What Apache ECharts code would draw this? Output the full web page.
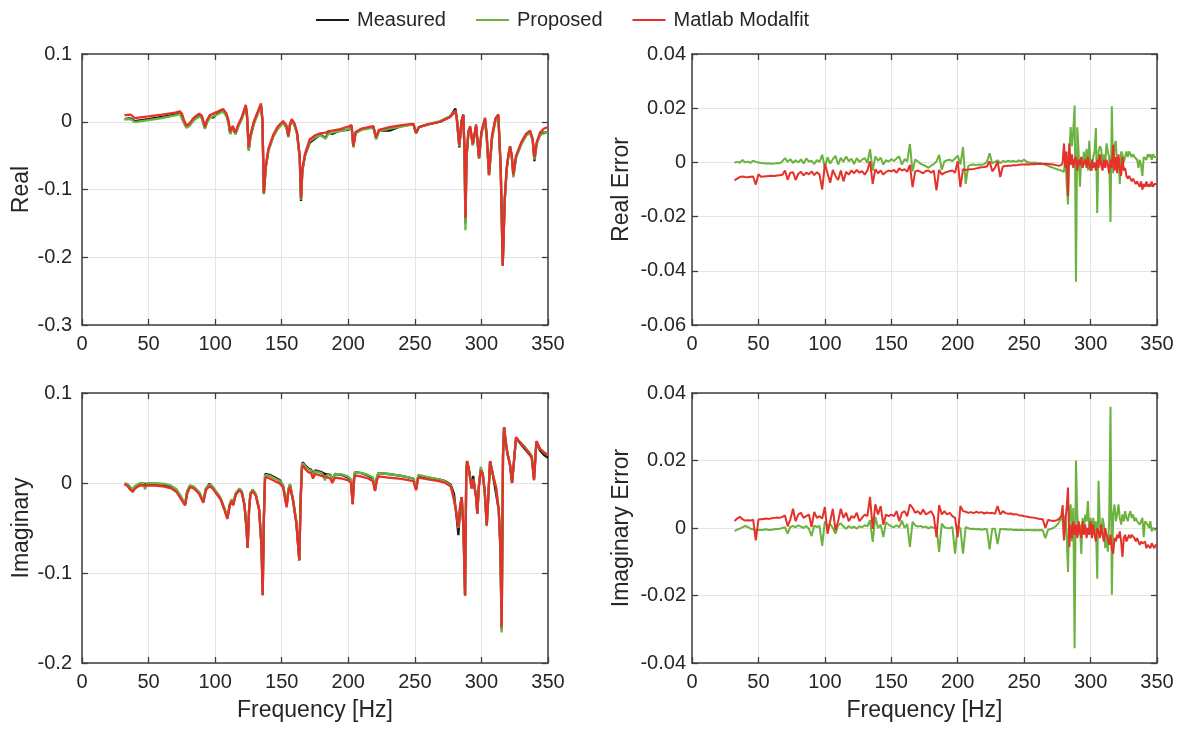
<!DOCTYPE html>
<html>
<head>
<meta charset="utf-8">
<title>Frequency response fit</title>
<script src="https://cdn.jsdelivr.net/npm/echarts@6/dist/echarts.min.js"></script>
<style>
  html, body { margin: 0; padding: 0; background: #ffffff; }
  #chart { width: 1186px; height: 730px; }
</style>
</head>
<body>
<div id="chart"></div>
<script>
// ---------------- Tick values and labels ----------------
const freqTicks = [0, 50, 100, 150, 200, 250, 300, 350];
const freqTickLabels = ['0', '50', '100', '150', '200', '250', '300', '350'];
const realTicks = [-0.3, -0.2, -0.1, 0, 0.1];
const realTickLabels = ['-0.3', '-0.2', '-0.1', '0', '0.1'];
const imagTicks = [-0.2, -0.1, 0, 0.1];
const imagTickLabels = ['-0.2', '-0.1', '0', '0.1'];
const realErrTicks = [-0.06, -0.04, -0.02, 0, 0.02, 0.04];
const realErrTickLabels = ['-0.06', '-0.04', '-0.02', '0', '0.02', '0.04'];
const imagErrTicks = [-0.04, -0.02, 0, 0.02, 0.04];
const imagErrTickLabels = ['-0.04', '-0.02', '0', '0.02', '0.04'];

// ---------------- Real part of the FRF [Hz] ----------------
const freqReal = [
  32, 35, 37, 39.5, 41, 50, 60, 70, 73.5, 75,
  76.5, 78.5, 80.5, 84, 88, 90, 92.3, 94, 96, 98.5,
  102, 106, 108.5, 110, 111.3, 113.3, 115.2, 117, 120, 123,
  124, 125.2, 126.5, 129, 132, 134.4, 135.5, 136.6, 138, 140,
  143.7, 147, 151, 153.5, 155, 156.2, 157.5, 159.5, 161.5, 163.5,
  164.5, 165.5, 167.5, 171, 175, 179, 183, 185, 188, 194,
  200, 202.5, 203.8, 205.5, 210, 215, 218.8, 220.9, 223, 231,
  240, 248.9, 250.9, 253, 260, 269, 276.4, 279, 280.4, 281.5,
  283.4, 285, 286.4, 287.3, 288, 288.8, 290.2, 291.5, 293.5, 296,
  298.2, 300, 302.7, 304, 305.7, 308, 310.5, 312.7, 314.5, 316,
  317.5, 319, 320.3, 321.5, 322.8, 324, 326, 330, 333.5, 336.5,
  338.5, 339.8, 341.5, 344, 347, 350
];
const realMeasured = [
  0.0040, 0.0050, 0.0045, 0.0010, 0.0020, 0.0040, 0.0070, 0.0110, 0.0130, 0.0100,
  0.0000, -0.0080, -0.0050, 0.0040, 0.0100, 0.0070, -0.0090, 0.0010, 0.0080, 0.0060,
  0.0130, 0.0160, 0.0100, 0.0000, -0.0180, -0.0080, -0.0180, -0.0080, 0.0050, 0.0230,
  0.0070, -0.0410, -0.0220, -0.0020, 0.0130, 0.0250, 0.0020, -0.1060, -0.0670, -0.0420,
  -0.0210, -0.0090, -0.0010, -0.0070, -0.0220, -0.0050, 0.0020, -0.0040, -0.0170, -0.0520,
  -0.1170, -0.0720, -0.0500, -0.0310, -0.0250, -0.0190, -0.0240, -0.0160, -0.0180, -0.0130,
  -0.0120, -0.0070, -0.0370, -0.0160, -0.0110, -0.0090, -0.0075, -0.0250, -0.0130, -0.0130,
  -0.0060, -0.0035, -0.0170, -0.0080, -0.0040, 0.0000, 0.0075, 0.0150, 0.0196, 0.0060,
  -0.0380, 0.0010, 0.0105, -0.0450, -0.1500, -0.0520, -0.0160, -0.0080, -0.0340, -0.0060,
  -0.0540, -0.0160, 0.0040, -0.0220, -0.0790, -0.0220, 0.0030, 0.0090, -0.0700, -0.2120,
  -0.1150, -0.0690, -0.0500, -0.0370, -0.0510, -0.0800, -0.0520, -0.0320, -0.0200, -0.0150,
  -0.0270, -0.0580, -0.0320, -0.0190, -0.0160, -0.0160
];
const realProposed = [
  0.0035, 0.0040, 0.0035, -0.0005, 0.0000, 0.0025, 0.0055, 0.0095, 0.0114, 0.0085,
  -0.0020, -0.0090, -0.0065, 0.0020, 0.0080, 0.0050, -0.0105, -0.0010, 0.0060, 0.0080,
  0.0110, 0.0150, 0.0080, -0.0020, -0.0180, -0.0090, -0.0185, -0.0090, 0.0040, 0.0220,
  0.0050, -0.0430, -0.0240, -0.0040, 0.0110, 0.0240, 0.0000, -0.1070, -0.0680, -0.0430,
  -0.0220, -0.0110, -0.0020, -0.0090, -0.0230, -0.0060, 0.0000, -0.0050, -0.0180, -0.0530,
  -0.1150, -0.0720, -0.0500, -0.0290, -0.0230, -0.0200, -0.0250, -0.0180, -0.0160, -0.0140,
  -0.0110, -0.0090, -0.0380, -0.0170, -0.0120, -0.0100, -0.0085, -0.0260, -0.0140, -0.0100,
  -0.0070, -0.0040, -0.0170, -0.0080, -0.0035, 0.0010, 0.0080, 0.0130, 0.0160, 0.0030,
  -0.0360, -0.0020, 0.0080, -0.0450, -0.1600, -0.0550, -0.0170, -0.0100, -0.0350, -0.0070,
  -0.0550, -0.0180, 0.0030, -0.0250, -0.0790, -0.0250, 0.0010, 0.0080, -0.0700, -0.2100,
  -0.1150, -0.0700, -0.0500, -0.0380, -0.0520, -0.0820, -0.0530, -0.0330, -0.0210, -0.0160,
  -0.0280, -0.0560, -0.0330, -0.0200, -0.0170, -0.0160
];
const realModalfit = [
  0.0095, 0.0105, 0.0100, 0.0055, 0.0060, 0.0080, 0.0105, 0.0135, 0.0153, 0.0120,
  0.0030, -0.0060, -0.0030, 0.0060, 0.0120, 0.0090, -0.0075, 0.0030, 0.0100, 0.0120,
  0.0150, 0.0188, 0.0120, 0.0020, -0.0145, -0.0060, -0.0160, -0.0060, 0.0070, 0.0250,
  0.0100, -0.0380, -0.0200, 0.0000, 0.0150, 0.0270, 0.0050, -0.1050, -0.0650, -0.0400,
  -0.0190, -0.0070, 0.0010, -0.0050, -0.0210, -0.0030, 0.0040, -0.0020, -0.0150, -0.0500,
  -0.1130, -0.0700, -0.0470, -0.0260, -0.0200, -0.0170, -0.0160, -0.0140, -0.0130, -0.0110,
  -0.0070, -0.0050, -0.0360, -0.0150, -0.0100, -0.0080, -0.0064, -0.0230, -0.0120, -0.0080,
  -0.0050, -0.0030, -0.0160, -0.0080, -0.0040, 0.0000, 0.0068, 0.0120, 0.0170, 0.0050,
  -0.0340, 0.0000, 0.0098, -0.0400, -0.1420, -0.0500, -0.0140, -0.0065, -0.0330, -0.0040,
  -0.0530, -0.0150, 0.0060, -0.0200, -0.0780, -0.0200, 0.0050, 0.0110, -0.0700, -0.2130,
  -0.1150, -0.0680, -0.0480, -0.0360, -0.0500, -0.0780, -0.0500, -0.0300, -0.0180, -0.0130,
  -0.0250, -0.0530, -0.0300, -0.0160, -0.0100, -0.0080
];

// ---------------- Imaginary part of the FRF ----------------
const freqImag = [
  32, 34, 36, 38, 40, 43, 46, 47.3, 49, 55,
  62, 67, 71, 74, 77.4, 79, 81.1, 84, 88, 91.1,
  93, 95.6, 98, 101, 104, 107, 109.2, 111, 112.4, 113.5,
  115.5, 118.2, 120, 122, 123.5, 124.4, 125.5, 126.5, 128.2, 130.5,
  133, 134.8, 135.7, 136.6, 137.5, 138.2, 141, 145, 148.7, 151,
  153.7, 155, 156.2, 158.5, 161, 163.2, 164.2, 165.2, 165.8, 168,
  170, 172, 173.5, 175, 180, 182.5, 184, 186.5, 188, 190,
  195, 200, 202, 203.3, 204.2, 205, 210, 215, 218.5, 220.1,
  221.5, 222.6, 230, 240, 248.9, 250.9, 252.6, 260, 268, 273,
  277, 279.4, 281.5, 282.7, 284, 285.2, 286.5, 287.7, 288.6, 289.2,
  290.5, 291.5, 292.7, 293.8, 296, 296.9, 298, 299.5, 301, 302.5,
  304, 305, 306.5, 308.5, 311, 313, 314.2, 315.2, 316.2, 317,
  318.3, 319.5, 320.2, 321.5, 323, 324.8, 326, 328, 332, 336,
  337.8, 339.5, 341.3, 344, 347, 350
];
const imagMeasured = [
  -0.0010, -0.0020, -0.0050, -0.0080, -0.0040, -0.0010, -0.0010, -0.0020, -0.0010, -0.0010,
  -0.0020, -0.0040, -0.0080, -0.0150, -0.0240, -0.0100, -0.0030, -0.0050, -0.0110, -0.0210,
  -0.0070, -0.0010, -0.0040, -0.0110, -0.0170, -0.0290, -0.0390, -0.0240, -0.0190, -0.0240,
  -0.0120, -0.0070, -0.0100, -0.0240, -0.0490, -0.0720, -0.0290, -0.0120, -0.0080, -0.0130,
  -0.0290, -0.0690, -0.1240, -0.0390, 0.0100, 0.0120, 0.0090, 0.0060, 0.0030, -0.0030,
  -0.0250, -0.0080, -0.0020, -0.0190, -0.0440, -0.0860, -0.0190, 0.0200, 0.0230, 0.0190,
  0.0160, 0.0150, 0.0090, 0.0140, 0.0120, 0.0100, 0.0100, 0.0090, 0.0040, 0.0100,
  0.0090, 0.0060, 0.0030, -0.0230, 0.0040, 0.0120, 0.0110, 0.0080, 0.0050, -0.0080,
  0.0060, 0.0110, 0.0100, 0.0080, 0.0050, -0.0070, 0.0080, 0.0060, 0.0040, 0.0020,
  -0.0020, -0.0120, -0.0400, -0.0580, -0.0280, -0.0160, -0.0500, -0.1250, 0.0100, 0.0240,
  0.0160, 0.0140, -0.0060, 0.0080, -0.0160, -0.0340, -0.0050, 0.0150, 0.0100, -0.0100,
  -0.0470, -0.0200, 0.0240, 0.0100, -0.0120, -0.0300, -0.0700, -0.1630, 0.0300, 0.0620,
  0.0450, 0.0330, 0.0350, 0.0200, 0.0000, 0.0300, 0.0500, 0.0460, 0.0390, 0.0320,
  0.0280, 0.0040, 0.0460, 0.0360, 0.0310, 0.0280
];
const imagProposed = [
  -0.0005, -0.0010, -0.0040, -0.0070, -0.0030, -0.0005, 0.0000, -0.0070, -0.0002, -0.0003,
  -0.0010, -0.0030, -0.0070, -0.0140, -0.0230, -0.0090, -0.0025, -0.0040, -0.0100, -0.0200,
  -0.0060, -0.0020, -0.0040, -0.0100, -0.0160, -0.0280, -0.0380, -0.0230, -0.0180, -0.0230,
  -0.0110, -0.0060, -0.0090, -0.0230, -0.0480, -0.0710, -0.0280, -0.0110, -0.0070, -0.0120,
  -0.0280, -0.0680, -0.1230, -0.0380, 0.0090, 0.0100, 0.0080, 0.0050, 0.0020, -0.0020,
  -0.0240, -0.0070, -0.0010, -0.0180, -0.0430, -0.0850, -0.0180, 0.0190, 0.0220, 0.0180,
  0.0150, 0.0140, 0.0080, 0.0130, 0.0110, 0.0030, 0.0090, 0.0085, 0.0040, 0.0100,
  0.0095, 0.0070, 0.0040, -0.0220, 0.0050, 0.0120, 0.0110, 0.0090, 0.0060, -0.0060,
  0.0070, 0.0110, 0.0100, 0.0080, 0.0050, -0.0060, 0.0090, 0.0065, 0.0040, 0.0015,
  -0.0030, -0.0180, -0.0350, -0.0500, -0.0260, -0.0160, -0.0500, -0.1250, 0.0100, 0.0244,
  0.0160, 0.0140, -0.0060, 0.0040, -0.0150, -0.0340, -0.0050, 0.0178, 0.0110, -0.0100,
  -0.0480, -0.0200, 0.0240, 0.0100, -0.0050, -0.0300, -0.0700, -0.1660, 0.0300, 0.0620,
  0.0460, 0.0340, 0.0340, 0.0200, 0.0007, 0.0300, 0.0500, 0.0470, 0.0410, 0.0340,
  0.0300, 0.0050, 0.0460, 0.0380, 0.0340, 0.0310
];
const imagModalfit = [
  -0.0015, -0.0030, -0.0070, -0.0100, -0.0060, -0.0030, -0.0026, -0.0028, -0.0028, -0.0030,
  -0.0040, -0.0060, -0.0100, -0.0170, -0.0250, -0.0120, -0.0044, -0.0060, -0.0120, -0.0220,
  -0.0080, -0.0037, -0.0060, -0.0120, -0.0180, -0.0300, -0.0400, -0.0250, -0.0200, -0.0250,
  -0.0130, -0.0080, -0.0110, -0.0250, -0.0500, -0.0720, -0.0300, -0.0130, -0.0090, -0.0140,
  -0.0300, -0.0700, -0.1250, -0.0400, 0.0040, 0.0067, 0.0050, 0.0020, -0.0007, -0.0050,
  -0.0270, -0.0100, -0.0040, -0.0200, -0.0450, -0.0860, -0.0200, 0.0150, 0.0196, 0.0150,
  0.0120, 0.0110, 0.0050, 0.0100, 0.0080, 0.0070, 0.0060, 0.0050, 0.0000, 0.0060,
  0.0050, 0.0030, 0.0000, -0.0237, 0.0000, 0.0085, 0.0070, 0.0050, 0.0020, -0.0090,
  0.0030, 0.0074, 0.0060, 0.0045, 0.0022, -0.0080, 0.0060, 0.0040, 0.0020, 0.0000,
  -0.0040, -0.0190, -0.0350, -0.0490, -0.0250, -0.0156, -0.0500, -0.1250, 0.0100, 0.0244,
  0.0160, 0.0150, -0.0060, 0.0030, -0.0150, -0.0340, -0.0050, 0.0140, 0.0100, -0.0100,
  -0.0470, -0.0200, 0.0244, 0.0100, -0.0050, -0.0300, -0.0700, -0.1600, 0.0300, 0.0620,
  0.0450, 0.0330, 0.0350, 0.0200, 0.0007, 0.0300, 0.0510, 0.0470, 0.0400, 0.0330,
  0.0290, 0.0030, 0.0467, 0.0380, 0.0340, 0.0310
];

// ---------------- Fit errors (fit minus measurement) ----------------
const errFreq = [
  32, 34, 36, 38, 40, 42, 44, 46, 48, 50,
  52, 54, 56, 58, 60, 62, 64, 66, 68, 70,
  72, 74, 76, 78, 80, 82, 84, 86, 88, 90,
  92, 94, 96, 98, 100, 102, 104, 106, 108, 110,
  112, 114, 116, 118, 120, 122, 124, 126, 128, 130,
  132, 134, 136, 138, 140, 142, 144, 146, 148, 150,
  152, 154, 156, 158, 160, 162, 164, 166, 168, 170,
  172, 174, 176, 178, 180, 182, 184, 186, 188, 190,
  192, 194, 196, 198, 200, 202, 204, 206, 208, 210,
  212, 214, 216, 218, 220, 222, 224, 226, 228, 230,
  232, 234, 236, 238, 240, 242, 244, 246, 248, 250,
  252, 254, 256, 258, 260, 262, 264, 266, 268, 270,
  272, 274, 276, 278,
  279, 280, 281, 282, 283, 284, 285, 286, 287, 288,
  289, 290, 291, 292, 293, 294, 295, 296, 297, 298,
  299, 300, 301, 302, 303, 304, 305, 306, 307, 308,
  309, 310, 311, 312, 313, 314, 315, 316, 317, 318,
  319, 320, 321, 322, 323, 324, 325, 326, 327, 328,
  329, 330, 331, 332, 333, 334, 335, 336, 337, 338,
  339, 340, 341, 342, 343, 344, 345, 346, 347, 348,
  349, 350
];
const realErrProposed = [
  0.0000, 0.0002, -0.0001, 0.0009, 0.0000, 0.0003, -0.0002, 0.0006, 0.0002, 0.0000,
  -0.0002, -0.0003, -0.0004, -0.0003, -0.0005, -0.0004, -0.0002, -0.0003, 0.0004, 0.0016,
  0.0002, 0.0012, -0.0002, 0.0008, 0.0000, 0.0011, -0.0004, 0.0015, 0.0003, 0.0006,
  -0.0006, 0.0009, 0.0002, 0.0028, -0.0020, 0.0019, -0.0004, 0.0012, 0.0024, -0.0008,
  0.0017, 0.0002, 0.0022, 0.0004, 0.0014, -0.0006, 0.0016, 0.0002, 0.0010, 0.0016,
  -0.0002, 0.0049, -0.0030, 0.0022, 0.0006, 0.0018, -0.0008, 0.0008, 0.0003, 0.0012,
  0.0005, 0.0015, 0.0022, -0.0008, 0.0012, 0.0004, 0.0068, -0.0033, 0.0011, 0.0003,
  -0.0005, -0.0009, -0.0014, -0.0020, -0.0012, -0.0006, 0.0003, 0.0028, -0.0027, 0.0004,
  0.0008, 0.0010, 0.0005, 0.0014, 0.0025, -0.0008, 0.0057, -0.0079, -0.0012, -0.0009,
  -0.0008, -0.0010, -0.0008, -0.0009, -0.0006, 0.0002, 0.0034, -0.0004, 0.0002, 0.0008,
  -0.0003, 0.0005, 0.0002, 0.0006, 0.0003, 0.0005, 0.0002, 0.0007, 0.0004, 0.0010,
  0.0002, 0.0000, -0.0002, 0.0000, -0.0002, -0.0003, -0.0005, -0.0009, -0.0013, -0.0017,
  -0.0020, -0.0024, -0.0027, -0.0030,
  -0.0032, -0.0035, 0.0040, -0.0080, -0.0155, 0.0040, 0.0130, 0.0060, 0.0120, 0.0210,
  -0.0440, 0.0130, 0.0040, -0.0090, 0.0020, -0.0020, 0.0040, -0.0010, 0.0050, -0.0030,
  0.0080, -0.0020, -0.0030, 0.0020, 0.0040, 0.0127, -0.0187, 0.0040, 0.0060, 0.0050,
  -0.0010, 0.0030, -0.0010, 0.0070, 0.0040, 0.0020, -0.0220, 0.0207, -0.0040, 0.0060,
  0.0080, -0.0020, 0.0020, -0.0080, 0.0040, 0.0030, 0.0000, 0.0020, 0.0040, 0.0020,
  0.0040, 0.0030, 0.0020, 0.0030, 0.0020, 0.0020, 0.0010, -0.0020, 0.0010, -0.0010,
  -0.0050, 0.0020, 0.0025, 0.0010, 0.0030, 0.0020, 0.0030, 0.0010, 0.0030, 0.0020,
  0.0025, 0.0020
];
const realErrModalfit = [
  -0.0066, -0.0060, -0.0054, -0.0052, -0.0054, -0.0055, -0.0053, -0.0052, -0.0082, -0.0044,
  -0.0053, -0.0052, -0.0051, -0.0050, -0.0049, -0.0050, -0.0048, -0.0047, -0.0046, -0.0030,
  -0.0064, -0.0038, -0.0036, -0.0065, -0.0042, -0.0035, -0.0048, -0.0038, -0.0044, -0.0033,
  -0.0047, -0.0036, -0.0045, -0.0100, -0.0006, -0.0040, -0.0075, -0.0028, -0.0050, -0.0065,
  -0.0030, -0.0070, -0.0035, -0.0045, -0.0030, -0.0040, -0.0028, -0.0038, -0.0032, -0.0045,
  -0.0030, 0.0004, -0.0079, -0.0025, -0.0040, -0.0030, -0.0045, -0.0035, -0.0030, -0.0033,
  -0.0028, -0.0038, -0.0022, -0.0030, -0.0025, -0.0035, -0.0009, -0.0091, -0.0033, -0.0030,
  -0.0035, -0.0040, -0.0032, -0.0030, -0.0038, -0.0030, -0.0103, -0.0028, -0.0045, -0.0038,
  -0.0035, -0.0032, -0.0030, -0.0038, 0.0004, -0.0091, -0.0025, -0.0028, -0.0026, -0.0025,
  -0.0024, -0.0022, -0.0020, -0.0018, -0.0017, -0.0015, 0.0004, -0.0033, -0.0020, 0.0004,
  -0.0054, -0.0015, -0.0013, -0.0012, -0.0012, -0.0010, -0.0011, -0.0009, -0.0008, -0.0008,
  -0.0007, -0.0008, -0.0006, -0.0007, -0.0006, -0.0005, -0.0006, -0.0005, -0.0006, -0.0007,
  -0.0008, -0.0010, -0.0012, -0.0010,
  0.0000, 0.0070, -0.0020, 0.0040, -0.0125, 0.0070, -0.0010, 0.0030, -0.0020, 0.0010,
  0.0020, -0.0030, 0.0010, -0.0010, 0.0020, -0.0020, 0.0000, 0.0010, -0.0020, 0.0020,
  -0.0010, -0.0030, 0.0010, -0.0020, 0.0000, -0.0030, 0.0010, -0.0020, 0.0030, -0.0010,
  -0.0030, 0.0010, -0.0020, 0.0010, -0.0010, -0.0040, 0.0010, -0.0020, 0.0065, -0.0030,
  0.0020, -0.0040, 0.0030, -0.0020, -0.0050, 0.0020, -0.0030, -0.0020, -0.0050, -0.0060,
  -0.0050, -0.0060, -0.0070, -0.0060, -0.0070, -0.0080, -0.0070, -0.0080, -0.0090, -0.0070,
  -0.0100, -0.0080, -0.0090, -0.0070, -0.0090, -0.0080, -0.0090, -0.0070, -0.0090, -0.0080,
  -0.0085, -0.0080
];
const imagErrProposed = [
  -0.0009, -0.0005, -0.0002, 0.0002, 0.0006, 0.0003, -0.0002, -0.0004, -0.0007, -0.0005,
  -0.0006, -0.0005, -0.0004, -0.0006, -0.0005, -0.0004, -0.0003, -0.0002, 0.0000, 0.0002,
  -0.0017, 0.0003, 0.0006, 0.0002, 0.0008, 0.0004, 0.0000, 0.0006, -0.0002, -0.0024,
  0.0007, 0.0003, 0.0006, -0.0053, 0.0020, 0.0005, 0.0012, 0.0000, -0.0017, 0.0008,
  0.0014, 0.0004, -0.0002, 0.0006, 0.0000, 0.0004, -0.0002, 0.0005, 0.0002, 0.0008,
  0.0005, 0.0023, -0.0041, 0.0033, 0.0000, 0.0010, -0.0027, 0.0017, 0.0010, 0.0005,
  0.0002, 0.0008, 0.0002, 0.0022, 0.0000, 0.0012, -0.0056, 0.0018, 0.0008, 0.0004,
  0.0006, 0.0002, 0.0004, -0.0001, 0.0003, 0.0001, 0.0002, -0.0071, 0.0013, 0.0002,
  0.0000, -0.0001, 0.0003, -0.0076, 0.0008, -0.0002, -0.0076, 0.0003, -0.0001, -0.0003,
  -0.0002, -0.0004, -0.0003, -0.0005, -0.0003, -0.0004, -0.0063, -0.0002, -0.0002, -0.0048,
  -0.0002, -0.0004, -0.0003, -0.0005, -0.0004, -0.0006, -0.0005, -0.0006, -0.0005, -0.0007,
  -0.0006, -0.0006, -0.0007, -0.0006, -0.0007, -0.0006, -0.0007, -0.0030, -0.0005, -0.0003,
  0.0000, 0.0006, 0.0015, 0.0033,
  0.0020, -0.0030, 0.0040, -0.0020, -0.0130, 0.0050, 0.0070, -0.0040, 0.0060, -0.0356,
  0.0200, 0.0040, -0.0020, 0.0010, -0.0077, 0.0030, -0.0010, 0.0040, 0.0020, 0.0080,
  -0.0020, 0.0030, -0.0020, 0.0030, -0.0010, 0.0020, -0.0150, 0.0140, 0.0010, -0.0020,
  0.0030, 0.0010, -0.0060, -0.0020, -0.0070, 0.0020, 0.0359, -0.0198, 0.0040, 0.0070,
  0.0020, 0.0040, 0.0070, 0.0030, 0.0010, 0.0040, 0.0020, 0.0050, 0.0030, 0.0020,
  0.0040, 0.0050, 0.0030, 0.0040, 0.0020, 0.0030, 0.0020, 0.0022, 0.0010, 0.0020,
  0.0030, -0.0027, 0.0020, 0.0025, 0.0010, 0.0000, 0.0020, -0.0010, 0.0000, -0.0005,
  -0.0007, -0.0007
];
const imagErrModalfit = [
  0.0021, 0.0028, 0.0033, 0.0026, 0.0022, 0.0023, 0.0022, 0.0025, -0.0037, 0.0025,
  0.0026, 0.0027, 0.0028, 0.0027, 0.0029, 0.0030, 0.0031, 0.0030, 0.0033, 0.0037,
  0.0005, 0.0025, 0.0057, 0.0020, 0.0040, 0.0045, 0.0030, 0.0035, 0.0040, 0.0003,
  0.0048, 0.0030, 0.0035, 0.0028, 0.0062, -0.0017, 0.0020, 0.0057, -0.0007, 0.0020,
  0.0057, 0.0030, 0.0045, 0.0020, 0.0035, 0.0030, 0.0045, 0.0020, 0.0030, 0.0040,
  0.0035, 0.0092, -0.0003, 0.0070, 0.0040, 0.0065, 0.0010, 0.0040, 0.0035, 0.0040,
  0.0035, 0.0050, 0.0020, 0.0045, 0.0050, 0.0035, 0.0070, 0.0060, 0.0045, 0.0050,
  0.0040, 0.0055, 0.0040, 0.0045, 0.0050, 0.0035, -0.0027, 0.0068, 0.0040, 0.0050,
  0.0040, 0.0045, 0.0035, 0.0030, -0.0027, 0.0065, 0.0050, 0.0048, 0.0045, 0.0047,
  0.0044, 0.0048, 0.0045, 0.0047, 0.0043, 0.0046, 0.0044, 0.0045, 0.0042, 0.0065,
  0.0040, 0.0050, 0.0044, 0.0042, 0.0043, 0.0040, 0.0041, 0.0038, 0.0037, 0.0035,
  0.0034, 0.0032, 0.0031, 0.0030, 0.0028, 0.0027, 0.0026, 0.0000, 0.0024, 0.0022,
  0.0021, 0.0022, 0.0026, 0.0035,
  0.0068, -0.0037, 0.0020, 0.0060, 0.0120, -0.0056, 0.0010, -0.0030, 0.0020, -0.0020,
  0.0010, -0.0030, 0.0020, -0.0010, -0.0030, 0.0020, -0.0020, 0.0010, -0.0030, 0.0000,
  -0.0020, 0.0020, -0.0030, 0.0010, -0.0020, -0.0040, 0.0000, -0.0010, -0.0030, 0.0010,
  -0.0020, -0.0040, 0.0000, -0.0020, -0.0030, -0.0050, -0.0020, -0.0060, -0.0076, -0.0030,
  -0.0040, -0.0020, -0.0030, -0.0010, -0.0040, -0.0086, -0.0030, -0.0020, -0.0040, -0.0030,
  -0.0020, -0.0030, -0.0020, -0.0017, -0.0030, -0.0040, -0.0030, -0.0040, -0.0050, -0.0040,
  -0.0046, -0.0050, -0.0040, -0.0060, -0.0050, -0.0055, -0.0060, -0.0045, -0.0050, -0.0060,
  -0.0050, -0.0050
];

// ---------------- Styling ----------------
const FONT = '"Liberation Sans", Arial, Helvetica, sans-serif';
const INK = '#262626';
const FRAME = '#3f3f3f';
const GRIDLINE = '#e4e4e4';
const SERIES_NAMES = ['Measured', 'Proposed', 'Matlab Modalfit'];
const SERIES_COLORS = ['#1a1a1a', '#6bb23f', '#e5312a'];

function axisRange(ticks) {
  return {
    min: ticks[0],
    max: ticks[ticks.length - 1],
    interval: +(ticks[1] - ticks[0]).toFixed(6)
  };
}
function tickFormatter(ticks, labels) {
  return function (v) {
    let best = 0;
    for (let i = 1; i < ticks.length; i++) {
      if (Math.abs(ticks[i] - v) < Math.abs(ticks[best] - v)) best = i;
    }
    return labels[best];
  };
}
const tickText = { fontFamily: FONT, fontSize: 20, color: INK };
const nameText = { fontFamily: FONT, fontSize: 23, color: INK };

const panels = [
  { box: { left: 82, top: 54, width: 466, height: 271 },
    yTicks: realTicks, yLabels: realTickLabels, yName: 'Real', yNameGap: 47, yLabelMargin: 10,
    xName: '', freq: freqReal, lineWidth: 2.3, values: [realMeasured, realProposed, realModalfit] },
  { box: { left: 692, top: 54, width: 465, height: 271 },
    yTicks: realErrTicks, yLabels: realErrTickLabels, yName: 'Real Error', yNameGap: 59, yLabelMargin: 6,
    xName: '', freq: errFreq, lineWidth: 2, values: [null, realErrProposed, realErrModalfit] },
  { box: { left: 82, top: 393, width: 466, height: 270 },
    yTicks: imagTicks, yLabels: imagTickLabels, yName: 'Imaginary', yNameGap: 47, yLabelMargin: 10,
    xName: 'Frequency [Hz]', freq: freqImag, lineWidth: 2.3, values: [imagMeasured, imagProposed, imagModalfit] },
  { box: { left: 692, top: 393, width: 465, height: 270 },
    yTicks: imagErrTicks, yLabels: imagErrTickLabels, yName: 'Imaginary Error', yNameGap: 59, yLabelMargin: 6,
    xName: 'Frequency [Hz]', freq: errFreq, lineWidth: 2, values: [null, imagErrProposed, imagErrModalfit] }
];

const grids = [], xAxes = [], yAxes = [], series = [];
const frameLine = { show: true, onZero: false, lineStyle: { color: FRAME, width: 1.5 } };
const innerTick = { show: true, inside: true, length: 6, lineStyle: { color: FRAME, width: 1.3 } };

panels.forEach(function (p, i) {
  grids.push(Object.assign({ containLabel: false }, p.box));
  const xr = axisRange(freqTicks);
  const yr = axisRange(p.yTicks);
  // bottom and top x axes (the top one closes the frame and carries ticks)
  xAxes.push(Object.assign({
    type: 'value', gridIndex: i, position: 'bottom',
    axisLine: frameLine, axisTick: innerTick,
    splitLine: { show: true, lineStyle: { color: GRIDLINE, width: 1 } },
    axisLabel: Object.assign({ margin: 9, formatter: tickFormatter(freqTicks, freqTickLabels) }, tickText),
    name: p.xName, nameLocation: 'middle', nameGap: 36, nameTextStyle: nameText
  }, xr));
  xAxes.push(Object.assign({
    type: 'value', gridIndex: i, position: 'top',
    axisLine: frameLine, axisTick: innerTick,
    splitLine: { show: false }, axisLabel: { show: false }
  }, xr));
  // left and right y axes
  yAxes.push(Object.assign({
    type: 'value', gridIndex: i, position: 'left',
    axisLine: frameLine, axisTick: innerTick,
    splitLine: { show: true, lineStyle: { color: GRIDLINE, width: 1 } },
    axisLabel: Object.assign({ margin: p.yLabelMargin, formatter: tickFormatter(p.yTicks, p.yLabels) }, tickText),
    name: p.yName, nameLocation: 'middle', nameGap: p.yNameGap, nameTextStyle: nameText
  }, yr));
  yAxes.push(Object.assign({
    type: 'value', gridIndex: i, position: 'right',
    axisLine: frameLine, axisTick: innerTick,
    splitLine: { show: false }, axisLabel: { show: false }
  }, yr));

  p.values.forEach(function (vals, k) {
    if (!vals) return;
    series.push({
      name: SERIES_NAMES[k],
      type: 'line',
      xAxisIndex: 2 * i,
      yAxisIndex: 2 * i,
      data: p.freq.map(function (f, j) { return [f, vals[j]]; }),
      symbol: 'none',
      showSymbol: false,
      smooth: false,
      clip: true,
      lineStyle: { color: SERIES_COLORS[k], width: p.lineWidth },
      itemStyle: { color: SERIES_COLORS[k] },
      emphasis: { disabled: true },
      z: 2 + k
    });
  });
});

const chart = echarts.init(document.getElementById('chart'), null, { renderer: 'canvas' });
chart.setOption({
  animation: false,
  backgroundColor: '#ffffff',
  legend: {
    data: SERIES_NAMES,
    icon: 'rect',
    left: 311,
    top: 5,
    itemWidth: 33,
    itemHeight: 2,
    itemGap: 30,
    textStyle: Object.assign({ padding: [0, 0, 0, 3] }, tickText)
  },
  grid: grids,
  xAxis: xAxes,
  yAxis: yAxes,
  series: series
});
</script>
</body>
</html>
